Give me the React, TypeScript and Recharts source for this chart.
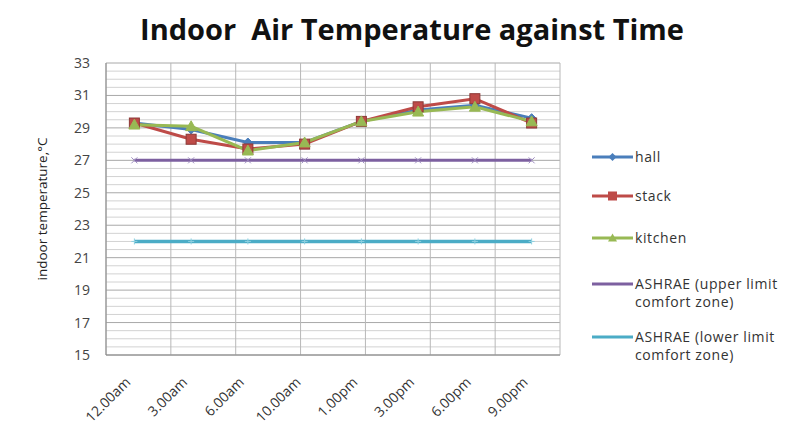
import React from 'react';
import { ComposedChart, Line, XAxis, YAxis, ReferenceLine } from 'recharts';

const categories = ['12.00am', '3.00am', '6.00am', '10.00am', '1.00pm', '3.00pm', '6.00pm', '9.00pm'];
const hall = [29.3, 28.9, 28.1, 28.1, 29.4, 30.1, 30.4, 29.6];
const stack = [29.3, 28.3, 27.7, 28.0, 29.4, 30.3, 30.8, 29.3];
const kitchen = [29.2, 29.1, 27.6, 28.1, 29.4, 30.0, 30.3, 29.4];
const ashraeUpper = [27, 27, 27, 27, 27, 27, 27, 27];
const ashraeLower = [22, 22, 22, 22, 22, 22, 22, 22];
const yTicks = [15, 17, 19, 21, 23, 25, 27, 29, 31, 33];
const minorY = [15.5, 16, 16.5, 17.5, 18, 18.5, 19.5, 20, 20.5, 21.5, 22, 22.5, 23.5, 24, 24.5, 25.5, 26, 26.5, 27.5, 28, 28.5, 29.5, 30, 30.5, 31.5, 32, 32.5];
const halfSteps = [0, 1, 2, 3, 4, 5, 6, 7, 8, 9, 10, 11, 12, 13, 14, 15, 16];

const data = categories.map((c, i) => ({
  time: c,
  hall: hall[i],
  stack: stack[i],
  kitchen: kitchen[i],
  upper: ashraeUpper[i],
  lower: ashraeLower[i],
}));

const COLORS = {
  hall: '#4a7ebb',
  stack: '#be4b48',
  kitchen: '#98b954',
  upper: '#7d60a0',
  lower: '#4bacc6',
};

const Diamond = (props: any) => {
  const { cx, cy } = props;
  if (cx == null || cy == null) return null;
  const s = 4.5;
  return <path d={`M${cx},${cy - s}L${cx + s},${cy}L${cx},${cy + s}L${cx - s},${cy}Z`} fill={COLORS.hall} stroke={COLORS.hall} />;
};
const Square = (props: any) => {
  const { cx, cy } = props;
  if (cx == null || cy == null) return null;
  const s = 5;
  return <rect x={cx - s} y={cy - s} width={2 * s} height={2 * s} fill={COLORS.stack} stroke="#8c3836" strokeWidth={1} />;
};
const Triangle = (props: any) => {
  const { cx, cy } = props;
  if (cx == null || cy == null) return null;
  const s = 5.5;
  return <path d={`M${cx},${cy - s}L${cx + s},${cy + s * 0.8}L${cx - s},${cy + s * 0.8}Z`} fill={COLORS.kitchen} stroke={COLORS.kitchen} />;
};
const XMark = (props: any) => {
  const { cx, cy } = props;
  if (cx == null || cy == null) return null;
  const s = 3;
  return <path d={`M${cx - s},${cy - s}L${cx + s},${cy + s}M${cx - s},${cy + s}L${cx + s},${cy - s}`} stroke="#9d8cbf" strokeWidth={1} />;
};
const Star = (props: any) => {
  const { cx, cy } = props;
  if (cx == null || cy == null) return null;
  const s = 3;
  return <path d={`M${cx - s},${cy}L${cx + s},${cy}M${cx},${cy - s}L${cx},${cy + s}`} stroke="#8ed0e0" strokeWidth={1} />;
};

const XTick = (props: any) => {
  const { x, y, payload } = props;
  return (
    <g transform={`translate(${x - 3},${y + 20})`}>
      <text textAnchor="end" transform="rotate(-45)" fontSize={14} fill="#333" fontFamily="Open Sans, sans-serif">
        {payload.value}
      </text>
    </g>
  );
};

const legendItems = [
  { key: 'hall', lines: ['hall'], color: COLORS.hall, marker: 'diamond' },
  { key: 'stack', lines: ['stack'], color: COLORS.stack, marker: 'square' },
  { key: 'kitchen', lines: ['kitchen'], color: COLORS.kitchen, marker: 'triangle' },
  { key: 'upper', lines: ['ASHRAE (upper limit', 'comfort zone)'], color: COLORS.upper, marker: 'none' },
  { key: 'lower', lines: ['ASHRAE (lower limit', 'comfort zone)'], color: COLORS.lower, marker: 'none' },
];
const legendTops = [148, 187, 229, 275, 328];

const LegendBox = () => (
  <>
    {legendItems.map((it, idx) => (
      <div
        key={it.key}
        style={{
          position: 'absolute',
          left: 591,
          top: legendTops[idx],
          display: 'flex',
          alignItems: 'flex-start',
          fontFamily: 'Open Sans, sans-serif',
          fontSize: 14,
          letterSpacing: 0.6,
          color: '#333',
          lineHeight: '18px',
        }}
      >
        <svg width={44} height={18} style={{ flex: 'none' }}>
          <line x1={1} y1={9} x2={42} y2={9} stroke={it.color} strokeWidth={3} />
          {it.marker === 'diamond' && <path d="M21.5,5L25.5,9L21.5,13L17.5,9Z" fill={it.color} />}
          {it.marker === 'square' && <rect x={17} y={4.5} width={9} height={9} fill={it.color} />}
          {it.marker === 'triangle' && <path d="M21.5,4.5L26,12.5L17,12.5Z" fill={it.color} />}
        </svg>
        <div style={{ whiteSpace: 'nowrap' }}>
          {it.lines.map((l, i) => (
            <div key={i}>{l}</div>
          ))}
        </div>
      </div>
    ))}
  </>
);

export default function App() {
  return (
    <div style={{ position: 'absolute', left: 0, top: 0, width: 799, height: 432, background: '#fff', overflow: 'hidden' }}>
      <ComposedChart width={799} height={432} data={data} margin={{ top: 63, right: 239, bottom: 0, left: 0 }}>
        <XAxis xAxisId="grid" type="number" domain={[0, 16]} hide />
        {minorY.map((v) => (
          <ReferenceLine key={'m' + v} xAxisId="grid" y={v} stroke="#d2d2d2" strokeWidth={1} />
        ))}
        {yTicks.map((v) => (
          <ReferenceLine key={'M' + v} xAxisId="grid" y={v} stroke="#a8a8a8" strokeWidth={1} />
        ))}
        {halfSteps.map((v) => (
          <ReferenceLine key={'v' + v} xAxisId="grid" x={v} stroke={v >= 8 ? '#8a8a8a' : '#b8b8b8'} strokeWidth={1} />
        ))}
        <XAxis
          dataKey="time"
          scale="band"
          height={77}
          tick={<XTick />}
          tickLine={false}
          axisLine={{ stroke: '#888' }}
          interval={0}
        />
        <YAxis
          domain={[15, 33]}
          ticks={yTicks}
          width={106}
          tick={{ fontSize: 14, fill: '#444', fontFamily: 'Open Sans, sans-serif', dx: -8 }}
          tickLine={false}
          axisLine={{ stroke: '#888' }}
          interval={0}
          label={{
            value: 'indoor temperature,°C',
            angle: -90,
            position: 'insideLeft',
            offset: 42,
            style: { fontSize: 13.5, fill: '#222', fontFamily: 'Open Sans, sans-serif', textAnchor: 'middle' },
          }}
        />
        <Line dataKey="upper" stroke={COLORS.upper} strokeWidth={3} dot={<XMark />} isAnimationActive={false} />
        <Line dataKey="lower" stroke={COLORS.lower} strokeWidth={3.5} dot={<Star />} isAnimationActive={false} />
        <Line dataKey="hall" stroke={COLORS.hall} strokeWidth={3} dot={<Diamond />} isAnimationActive={false} />
        <Line dataKey="stack" stroke={COLORS.stack} strokeWidth={3} dot={<Square />} isAnimationActive={false} />
        <Line dataKey="kitchen" stroke={COLORS.kitchen} strokeWidth={3} dot={<Triangle />} isAnimationActive={false} />
      </ComposedChart>
      <div
        style={{
          position: 'absolute',
          left: 0,
          top: 9,
          width: 824,
          textAlign: 'center',
          fontFamily: 'Open Sans, sans-serif',
          fontWeight: 700,
          fontSize: 29,
          color: '#111',
          whiteSpace: 'pre',
        }}
      >
        {'Indoor  Air Temperature against Time'}
      </div>
      <LegendBox />
    </div>
  );
}
